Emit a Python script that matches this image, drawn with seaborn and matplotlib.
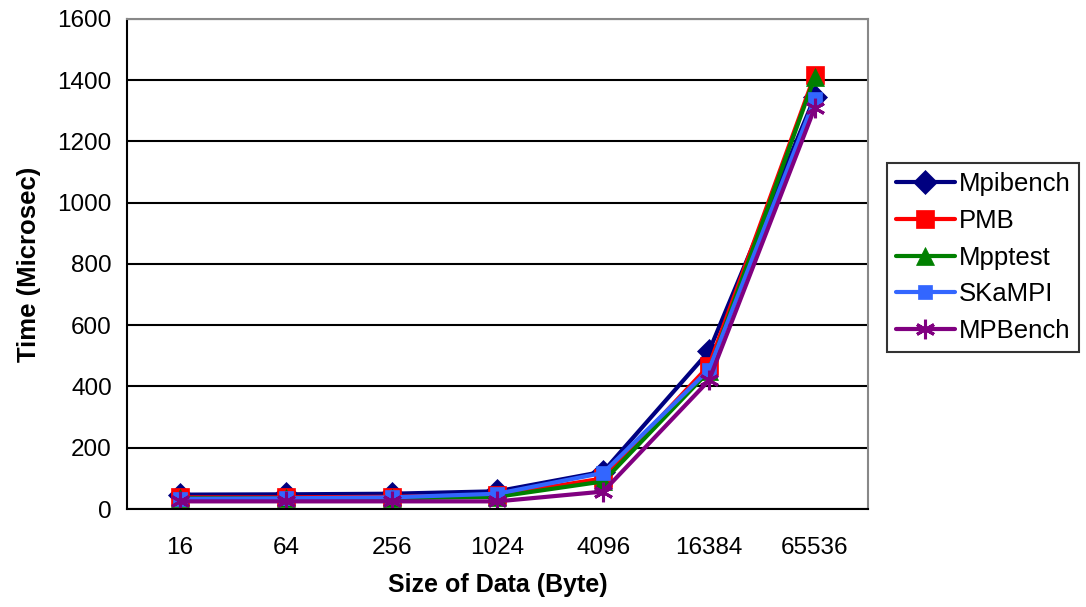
import matplotlib
matplotlib.use("Agg")
import matplotlib.pyplot as plt
import seaborn as sns
import pandas as pd
import numpy as np

sizes = ["16", "64", "256", "1024", "4096", "16384", "65536"]
mpibench = [47, 48, 50, 58, 122, 515, 1345]
pmb = [38, 38, 40, 45, 100, 468, 1418]
mpptest = [35, 35, 35, 40, 90, 450, 1410]
skampi = [33, 35, 38, 50, 118, 455, 1338]
mpbench = [25, 25, 25, 25, 57, 420, 1310]

series_names = ["Mpibench", "PMB", "Mpptest", "SKaMPI", "MPBench"]
series_values = [mpibench, pmb, mpptest, skampi, mpbench]
colors = ["#000080", "#FF0000", "#008000", "#3366FF", "#800080"]
markers = ["D", "s", "^", "s", (6, 2, 0)]
msizes = [12, 13, 13, 10, 14]

sns.set_theme(style="white")
plt.rcParams['font.family'] = ['Liberation Sans', 'DejaVu Sans']
plt.rcParams['text.color'] = 'black'
plt.rcParams['axes.labelcolor'] = 'black'
plt.rcParams['xtick.color'] = 'black'
plt.rcParams['ytick.color'] = 'black'

fig = plt.figure(figsize=(10.86, 6.07), dpi=100)
ax = fig.add_axes([0.117, 0.1614, 0.682, 0.8076])

xpos = np.arange(len(sizes))
for name, vals, c, m, ms in zip(series_names, series_values, colors, markers, msizes):
    df = pd.DataFrame({"x": xpos, "y": vals})
    sns.lineplot(data=df, x="x", y="y", ax=ax, color=c, linewidth=3.0,
                 marker=m, markersize=ms, markeredgecolor=c,
                 markeredgewidth=2.2 if m == (6, 2, 0) else 0.5, label=name)

ax.set_xlim(-0.5, len(sizes) - 0.5)
ax.set_ylim(0, 1600)
ax.set_yticks(np.arange(0, 1601, 200))
ax.set_xticks(xpos)
ax.set_xticklabels(sizes)
ax.set_xticks(np.arange(-0.5, len(sizes), 1.0), minor=True)
ax.tick_params(axis="x", which="major", length=0, pad=20, labelsize=17.5)
ax.tick_params(axis="x", which="minor", length=7, width=1.5, direction="out", color="black")
ax.tick_params(axis="y", which="major", length=7, width=1.5, direction="out", labelsize=17.5, color="black", pad=4)
ax.yaxis.grid(True, color="black", linewidth=1.5)
ax.xaxis.grid(False)
ax.set_axisbelow(True)

for s in ["left", "bottom"]:
    ax.spines[s].set_color("black")
    ax.spines[s].set_linewidth(1.5)
for s in ["top", "right"]:
    ax.spines[s].set_color("#888888")
    ax.spines[s].set_linewidth(1.5)

ax.set_xlabel("Size of Data (Byte)", fontsize=18, fontweight="bold", labelpad=10)
ax.set_ylabel("Time (Microsec)", fontsize=18.5, fontweight="bold", labelpad=12)

leg = ax.legend(loc="upper left", bbox_to_anchor=(1.0256, 0.706), frameon=True,
                fancybox=False, edgecolor="black", fontsize=18.5,
                handlelength=2.3, handletextpad=0.15, labelspacing=0.5,
                borderpad=0.35, borderaxespad=0)
leg.get_frame().set_linewidth(1.5)

fig.savefig("out.png", dpi=100)
